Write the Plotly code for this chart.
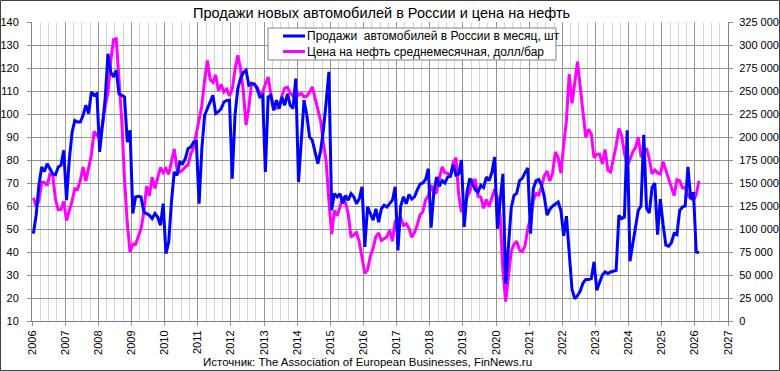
import plotly.graph_objects as go

# ---------------- DATA ----------------
start_year = 2006
x_tick_years = list(range(2006, 2028))
left_ticks = list(range(10, 150, 10))
right_ticks = list(range(0, 350000, 25000))

# Brent-type monthly average oil price, USD/bbl (Jan 2006 .. Feb 2026)
oil_price = [
    63.6, 59.9, 62.3, 70.4, 70.2, 68.9, 73.9, 73.6, 62.8, 58.4, 58.5, 62.0,      # 2006
    53.7, 57.6, 62.1, 67.5, 67.2, 71.1, 76.9, 70.8, 77.2, 82.3, 92.4, 90.9,      # 2007
    92.2, 95.0, 103.6, 109.1, 122.8, 132.3, 132.7, 113.2, 97.2, 71.6, 52.5, 40.0,  # 2008
    43.4, 43.3, 46.5, 50.2, 57.3, 68.6, 64.4, 72.5, 67.7, 72.8, 76.7, 74.5,      # 2009
    76.2, 73.8, 78.8, 84.8, 76.0, 74.8, 75.6, 77.0, 77.8, 82.7, 85.3, 91.5,      # 2010
    96.5, 103.7, 114.6, 123.3, 115.0, 113.8, 117.0, 110.2, 112.8, 109.6, 110.8, 107.9,  # 2011
    110.7, 119.3, 125.5, 119.8, 110.3, 95.2, 102.6, 113.4, 112.9, 111.7, 109.1, 109.5,  # 2012
    113.0, 116.1, 108.5, 102.3, 102.6, 102.9, 107.9, 111.3, 111.6, 109.1, 107.8, 110.8,  # 2013
    108.1, 108.9, 107.5, 107.8, 109.5, 111.8, 106.8, 101.6, 97.1, 87.4, 79.4, 62.3,  # 2014
    47.8, 58.1, 55.9, 59.5, 64.1, 61.5, 56.6, 46.5, 47.6, 48.4, 44.3, 38.0,      # 2015
    30.7, 32.2, 38.2, 41.6, 46.7, 48.3, 45.0, 45.8, 46.6, 49.5, 44.7, 53.3,      # 2016
    54.6, 54.9, 51.6, 52.3, 50.3, 46.4, 48.5, 51.7, 56.2, 57.5, 62.7, 64.4,      # 2017
    69.1, 65.3, 66.0, 72.1, 77.0, 74.4, 74.3, 72.5, 78.9, 81.0, 64.8, 57.4,      # 2018
    59.4, 64.0, 66.1, 71.2, 71.3, 64.2, 63.9, 59.0, 62.8, 59.7, 63.2, 67.3,      # 2019
    63.7, 55.7, 32.0, 18.4, 29.4, 40.3, 43.2, 44.7, 40.9, 40.2, 42.7, 50.0,      # 2020
    54.8, 62.3, 65.4, 64.8, 68.5, 73.2, 75.2, 70.8, 74.5, 83.5, 81.1, 74.2,      # 2021
    86.5, 97.1, 117.3, 104.6, 113.3, 122.7, 111.9, 100.5, 89.8, 93.3, 91.4, 80.9,  # 2022
    82.5, 82.6, 78.4, 84.6, 75.5, 74.8, 80.1, 86.2, 93.7, 90.6, 82.9, 77.6,      # 2023
    80.1, 83.5, 85.4, 89.9, 81.8, 82.3, 85.2, 80.4, 74.0, 75.6, 74.4, 73.9,      # 2024
    79.3, 75.4, 72.5, 67.8, 64.5, 71.4, 71.0, 67.9, 68.0, 64.5, 63.6, 62.5,      # 2025
    65.0, 71.0,                                                                  # 2026
]

# New car sales in Russia per month, thousand units (Jan 2006 .. Feb 2026)
car_sales_k = [
    95.0, 115.0, 147.5, 167.5, 162.5, 171.0, 165.5, 160.0, 158.8, 167.5, 169.3, 185.5,   # 2006
    131.3, 175.0, 205.0, 218.0, 216.3, 216.3, 223.5, 234.5, 225.5, 249.0, 245.3, 247.0,  # 2007
    183.8, 216.3, 241.8, 290.5, 270.8, 265.3, 272.5, 247.0, 245.3, 243.5, 194.5, 207.3,  # 2008
    116.8, 134.8, 135.5, 134.8, 118.5, 116.3, 115.0, 111.3, 116.8, 113.0, 104.0, 127.5,  # 2009
    73.3, 85.8, 130.0, 162.0, 158.3, 172.5, 171.0, 176.5, 187.5, 189.0, 194.5, 195.0,    # 2010
    127.5, 187.5, 223.5, 230.8, 237.5, 245.3, 225.5, 227.5, 230.8, 238.0, 239.8, 240.0,  # 2011
    154.8, 223.5, 252.5, 263.5, 270.0, 272.5, 256.3, 258.0, 257.5, 252.5, 243.5, 245.3,  # 2012
    162.0, 243.5, 245.0, 229.0, 240.0, 230.8, 243.5, 234.5, 247.0, 234.5, 230.8, 263.5,  # 2013
    151.0, 200.0, 240.0, 223.8, 200.0, 196.3, 185.0, 171.0, 185.0, 207.5, 237.5, 270.8,  # 2014
    120.3, 138.5, 134.8, 138.5, 127.5, 136.5, 131.3, 138.5, 135.0, 127.5, 133.0, 145.8,  # 2015
    80.5, 124.0, 116.8, 109.5, 122.0, 107.5, 122.0, 125.8, 123.8, 127.5, 131.3, 145.8,   # 2016
    76.8, 125.0, 135.0, 127.5, 137.5, 132.5, 135.0, 142.5, 148.8, 150.0, 153.8, 165.5,   # 2017
    101.5, 140.0, 156.5, 146.3, 152.5, 150.0, 156.3, 157.5, 170.0, 158.8, 160.0, 175.0,  # 2018
    102.3, 140.0, 155.0, 149.3, 142.5, 140.0, 147.5, 145.0, 156.5, 152.5, 161.3, 178.3,  # 2019
    100.3, 130.0, 160.0, 40.0, 85.0, 122.5, 136.3, 138.8, 152.5, 155.0, 161.3, 166.3,    # 2020
    95.0, 143.8, 152.5, 153.8, 147.5, 135.0, 115.0, 121.3, 125.0, 127.5, 129.3, 120.0,   # 2021
    92.5, 114.0, 70.0, 35.0, 24.3, 27.5, 32.5, 41.3, 45.0, 45.0, 46.0, 64.3,             # 2022
    33.3, 42.5, 50.0, 53.3, 51.5, 53.3, 53.8, 55.0, 114.8, 111.3, 113.0, 207.3,          # 2023
    65.0, 85.0, 100.0, 120.0, 125.0, 202.5, 122.5, 117.5, 145.0, 150.0, 93.8, 132.5,     # 2024
    105.0, 82.5, 81.3, 85.0, 95.0, 93.8, 120.0, 123.8, 125.0, 167.5, 132.5, 140.0,       # 2025
    75.0, 74.3,                                                                          # 2026
]

sales_name = "Продажи  автомобилей в России в месяц, шт"
oil_name = "Цена на нефть среднемесячная, долл/бар"
title_text = "Продажи новых автомобилей в России и цена на нефть"
source_text = "Источник: The Association of European Businesses, FinNews.ru"

BLUE = "#0000FF"
MAGENTA = "#FF00FF"

# ---------------- BUILD ----------------
months_x = [start_year + (i + 0.5) / 12.0 for i in range(len(oil_price))]
sales_units = [v * 1000 for v in car_sales_k]

W, H = 780, 371
L, R, T, B = 32, 52, 22, 50
PW, PH = W - L - R, H - T - B


def px_x(px):
    return (px - L) / PW


def px_y(py):
    return (H - B - py) / PH


FONT = "Liberation Sans, Arial, sans-serif"

fig = go.Figure()
fig.add_trace(go.Scatter(
    x=months_x, y=oil_price, name=oil_name, mode="lines",
    line=dict(color=MAGENTA, width=3), yaxis="y", showlegend=False,
))
fig.add_trace(go.Scatter(
    x=months_x, y=sales_units, name=sales_name, mode="lines",
    line=dict(color=BLUE, width=3), yaxis="y2", showlegend=False,
))

grid_major = "#959595"
grid_minor = "#d4d4d4"

# legend (box, line samples, labels)
leg_box = dict(type="rect", xref="paper", yref="paper",
               x0=px_x(268), x1=px_x(556), y0=px_y(60), y1=px_y(28),
               line=dict(color="#808080", width=1), fillcolor="white", layer="above")
leg_rows = [(sales_name, BLUE, 36), (oil_name, MAGENTA, 51.5)]
shapes = [
    dict(type="rect", xref="paper", yref="paper",
         x0=px_x(0.5), x1=px_x(W - 0.5), y0=px_y(H - 0.5), y1=px_y(0.5),
         line=dict(color="#404040", width=1), fillcolor="rgba(0,0,0,0)",
         layer="below"),
    leg_box,
]
annotations = [
    dict(text=title_text, xref="paper", yref="paper",
         x=px_x(381.5), y=px_y(13), xanchor="center", yanchor="middle",
         showarrow=False, font=dict(family=FONT, size=14.5, color="black")),
    dict(text=source_text, xref="paper", yref="paper",
         x=px_x(367.5), y=px_y(362), xanchor="center", yanchor="middle",
         showarrow=False, font=dict(family=FONT, size=11.5, color="black")),
]
for label, color, ypx in leg_rows:
    shapes.append(dict(type="line", xref="paper", yref="paper",
                       x0=px_x(283), x1=px_x(305), y0=px_y(ypx), y1=px_y(ypx),
                       line=dict(color=color, width=3), layer="above"))
    annotations.append(dict(text=label, xref="paper", yref="paper",
                            x=px_x(305), y=px_y(ypx), xanchor="left", yanchor="middle",
                            showarrow=False,
                            font=dict(family=FONT, size=12, color="black")))

fig.update_layout(
    width=W, height=H, autosize=False,
    margin=dict(l=L, r=R, t=T, b=B, pad=0, autoexpand=False),
    paper_bgcolor="white", plot_bgcolor="white",
    separators=", ",
    font=dict(family=FONT, size=11, color="black"),
    showlegend=False,
    xaxis=dict(
        range=[2006, 2027], tickmode="array", tickvals=x_tick_years,
        ticktext=[str(y) for y in x_tick_years], tickangle=-90,
        showgrid=True, gridcolor=grid_major, gridwidth=1,
        minor=dict(dtick=0.25, tick0=2006, showgrid=True, gridcolor=grid_minor, gridwidth=1),
        ticks="outside", ticklen=4, tickcolor=grid_major,
        showline=True, linecolor="#808080", linewidth=1,
        zeroline=False, automargin=False,
        tickfont=dict(family=FONT, size=11, color="black"),
    ),
    yaxis=dict(
        range=[10, 140], tickmode="array", tickvals=left_ticks,
        showgrid=True, gridcolor=grid_major, gridwidth=1,
        ticks="outside", ticklen=4, tickcolor=grid_major,
        showline=True, linecolor="#808080", linewidth=1,
        zeroline=False, ticklabelstandoff=6, automargin=False,
        tickfont=dict(family=FONT, size=11, color="black"),
    ),
    yaxis2=dict(
        range=[0, 325000], tickmode="array", tickvals=right_ticks,
        tickformat=",d", overlaying="y", side="right",
        showgrid=False, ticks="outside", ticklen=4, tickcolor=grid_major,
        showline=True, linecolor="#808080", linewidth=1,
        zeroline=False, ticklabelstandoff=4, automargin=False,
        tickfont=dict(family=FONT, size=11, color="black"),
    ),
    shapes=shapes,
    annotations=annotations,
)

fig.write_html("out.html",
               config={"displayModeBar": False},
               post_script="document.body.style.margin='0px';document.body.style.padding='0px';")
